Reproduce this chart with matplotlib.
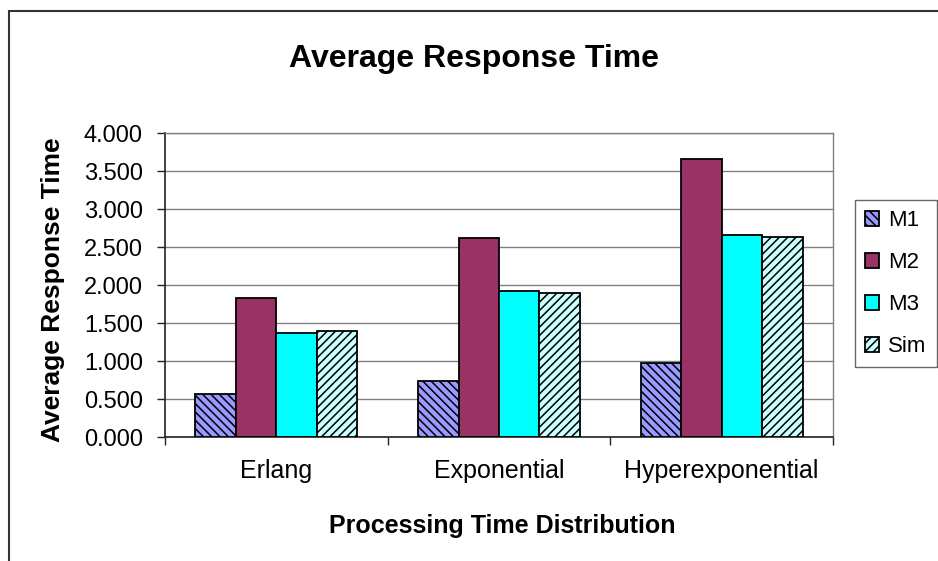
import matplotlib
matplotlib.use("Agg")
import matplotlib.pyplot as plt
import matplotlib.ticker as mticker
from matplotlib.patches import Rectangle
import numpy as np

# ── Data ──────────────────────────────────────────────
categories = ["Erlang", "Exponential", "Hyperexponential"]
series_names = ["M1", "M2", "M3", "Sim"]
m1 = [0.565, 0.735, 0.980]
m2 = [1.835, 2.625, 3.655]
m3 = [1.365, 1.915, 2.655]
sim = [1.400, 1.890, 2.630]

# ── Style ─────────────────────────────────────────────
FONT = "Liberation Sans"
colors = ["#9999FF", "#993366", "#00FFFF", "#CCFFFF"]
hatches = ["\\\\\\\\", None, None, "////"]

plt.rcParams.update({
    "font.family": FONT,
    "hatch.linewidth": 1.1,
    "hatch.color": "black",
})

W, H = 938, 561
fig = plt.figure(figsize=(W / 100, H / 100), dpi=100)
fig.patch.set_facecolor("white")

ax = fig.add_axes([165 / W, 1 - 437 / H, (833 - 165) / W, (437 - 133) / H])

x = np.arange(len(categories))
n = len(series_names)
width = 1.0 / (n + 1.5)
values = [m1, m2, m3, sim]

handles = []
for i, (name, vals) in enumerate(zip(series_names, values)):
    offs = (i - (n - 1) / 2) * width
    bars = ax.bar(x + offs, vals, width, color=colors[i], edgecolor="black",
                  linewidth=1.3, hatch=hatches[i], label=name, zorder=3)
    handles.append(bars)

ax.set_xlim(-0.5, len(categories) - 0.5)
ax.set_ylim(0, 4.0)
ax.yaxis.set_major_locator(mticker.MultipleLocator(0.5))
ax.yaxis.set_major_formatter(mticker.FormatStrFormatter("%.3f"))
ax.grid(True, axis="y", color="#808080", linewidth=1.0, zorder=0)

ax.set_xticks(x)
ax.set_xticklabels(categories, fontsize=18)
ax.set_xticks(np.arange(-0.5, len(categories), 1.0), minor=True)
ax.tick_params(axis="x", which="major", length=0, pad=16)
ax.tick_params(axis="x", which="minor", length=6, width=1.0, color="#222222", direction="out")
ax.tick_params(axis="y", length=6, width=1.0, color="#222222", direction="out", labelsize=17, pad=10)

for side in ("top", "right"):
    ax.spines[side].set_color("#808080")
    ax.spines[side].set_linewidth(1.0)
for side in ("left", "bottom"):
    ax.spines[side].set_color("#222222")
    ax.spines[side].set_linewidth(1.2)

# titles
fig.text(474 / W, 1 - 67 / H, "Average Response Time", ha="center", va="baseline",
         fontsize=23, fontweight="bold")
fig.text(502 / W, 1 - 533 / H, "Processing Time Distribution", ha="center", va="baseline",
         fontsize=18, fontweight="bold")
fig.text(53 / W, 1 - 290 / H, "Average Response Time", ha="center", va="center",
         rotation=90, fontsize=19, fontweight="bold")

leg = ax.legend(handles=handles, loc="upper left", bbox_to_anchor=(855 / W, 1 - 200 / H),
                bbox_transform=fig.transFigure, fontsize=16, frameon=True, fancybox=False,
                handlelength=0.65, handleheight=0.65, handletextpad=0.4,
                labelspacing=0.95, borderpad=0.45, borderaxespad=0)
leg.get_frame().set_edgecolor("#404040")
leg.get_frame().set_linewidth(1.0)

# outer chart border (runs off the right and bottom edges)
fig.add_artist(Rectangle((9 / W, -0.2), 1.2, 1 - 10.5 / H + 0.2, transform=fig.transFigure,
                         fill=False, edgecolor="#333333", linewidth=1.5))

fig.savefig("out.png", dpi=100)
